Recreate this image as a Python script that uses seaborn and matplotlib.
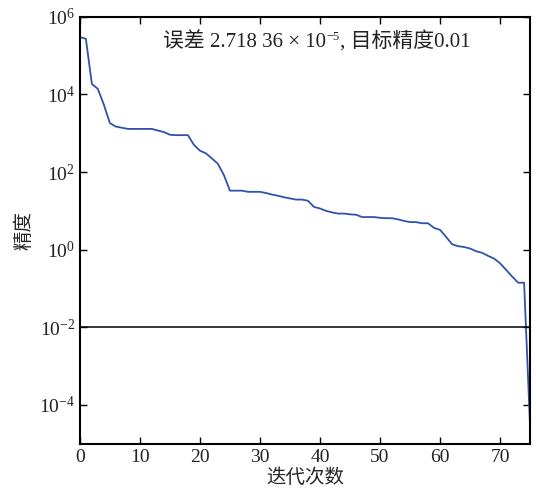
import numpy as np
import pandas as pd
import matplotlib
matplotlib.use("Agg")
import matplotlib.pyplot as plt
import matplotlib.ticker as mticker
from matplotlib.transforms import offset_copy
import seaborn as sns

# precision per iteration
iterations = list(range(76))
precision = [
    3.0e5, 2.7e5, 1.86e4, 1.38e4, 5.4e3, 1.82e3, 1.48e3, 1.38e3, 1.29e3, 1.29e3,
    1.29e3, 1.29e3, 1.29e3, 1.17e3, 1.07e3, 912, 891, 891, 891, 501,
    355, 302, 224, 162, 83, 33.1, 33.1, 33.1, 30.9, 30.9,
    30.9, 28.8, 26.3, 24.5, 22.4, 20.9, 19.5, 19.5, 18.2, 12.6,
    11.5, 10.0, 9.12, 8.51, 8.51, 8.13, 7.94, 6.92, 6.92, 6.92,
    6.61, 6.46, 6.46, 6.03, 5.50, 5.13, 5.13, 4.79, 4.79, 3.63,
    3.24, 2.14, 1.38, 1.23, 1.17, 1.07, 0.912, 0.832, 0.692, 0.589,
    0.447, 0.302, 0.204, 0.141, 0.141, 2.71836e-5,
]
target = 0.01
y_ticks = [1e-4, 1e-2, 1e0, 1e2, 1e4, 1e6]
x_ticks = [0, 10, 20, 30, 40, 50, 60, 70]
note_parts = ["误差 2.718 36 × 10", "−5", ", 目标精度0.01"]

df = pd.DataFrame({"iter": iterations, "precision": precision})

sns.set_style("ticks")
plt.rcParams["font.family"] = ["Liberation Serif", "Noto Sans CJK SC", "DejaVu Sans"]
plt.rcParams["mathtext.fontset"] = "stix"
plt.rcParams["xtick.direction"] = "in"
plt.rcParams["ytick.direction"] = "in"

fig = plt.figure(figsize=(5.36, 4.92), dpi=100)
ax = fig.add_axes([0.149, 0.098, 0.840, 0.868])

sns.lineplot(data=df, x="iter", y="precision", ax=ax, color="#2f52ad", linewidth=1.3)
ax.axhline(target, color="black", linewidth=1.1)

ax.set_yscale("log")
ax.set_xlim(0, 75)
ax.set_ylim(1e-5, 1e6)
ax.set_xticks(x_ticks)
ax.yaxis.set_major_locator(mticker.FixedLocator(y_ticks))
ax.yaxis.set_minor_locator(mticker.NullLocator())
ax.yaxis.set_major_formatter(mticker.LogFormatterMathtext())
ax.tick_params(axis="both", which="both", top=True, right=True, labelsize=14,
               length=5, width=1, color="black", labelcolor="#222222")
for s in ax.spines.values():
    s.set_linewidth(1.5)
    s.set_color("black")

ax.set_xlabel("迭代次数", fontsize=14, labelpad=2)
ax.set_ylabel("精度", fontsize=14, labelpad=4)

# annotation built from pieces so the exponent can be raised
renderer = fig.canvas.get_renderer()
t = ax.text(0.185, 0.94, note_parts[0], transform=ax.transAxes,
            ha="left", va="center", fontsize=15, color="#222222")
t._dy = 0
for txt, dy, size in [(note_parts[1], 5, 9), (note_parts[2], 0, 15)]:
    ext = t.get_window_extent(renderer)
    x0, y0 = t.get_position()
    tr = offset_copy(t.get_transform(), fig=fig, x=ext.width + 0.5, y=dy - t._dy, units="dots")
    t = ax.text(x0, y0, txt, transform=tr, ha="left", va="center",
                fontsize=size, color="#222222")
    t._dy = dy

fig.savefig("out.png", dpi=100)
